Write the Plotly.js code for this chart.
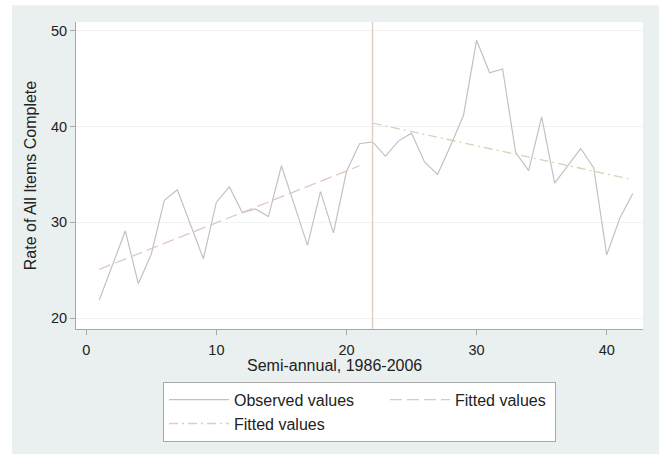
<!DOCTYPE html>
<html>
<head>
<meta charset="utf-8">
<script src="https://cdn.plot.ly/plotly-3.0.1.min.js"></script>
<style>
  html, body { margin: 0; padding: 0; background: #ffffff; }
  #chart { width: 659px; height: 454px; }
</style>
</head>
<body>
<div id="chart"></div>
<script>
// Semi-annual period index
const period = [1,2,3,4,5,6,7,8,9,10,11,12,13,14,15,16,17,18,19,20,21,
                22,23,24,25,26,27,28,29,30,31,32,33,34,35,36,37,38,39,40,41,42];
// Observed rate of all items complete
const observed = [21.9,25.5,29.1,23.6,26.7,32.3,33.4,29.8,26.2,32.1,33.7,
                  31.0,31.4,30.6,35.9,31.8,27.6,33.2,28.9,35.3,38.2,
                  38.4,36.9,38.5,39.3,36.3,35.0,38.0,41.2,49.0,45.6,
                  46.0,37.3,35.4,41.0,34.1,35.9,37.7,35.7,26.6,30.4,33.0];
// Fitted values, before break
const fit1X = [1, 21];
const fit1Y = [25.1, 35.9];
// Fitted values, after break
const fit2X = [22, 42];
const fit2Y = [40.35, 34.45];
// Break point
const breakX = [22];
// Tick values
const xTicks = [0, 10, 20, 30, 40];
const yTicks = [20, 30, 40, 50];
const seriesNames = ['Observed values', 'Fitted values', 'Fitted values'];

const FONT = 'Liberation Sans, Arial, sans-serif';

const traces = [
  {
    x: period, y: observed, type: 'scatter', mode: 'lines',
    name: seriesNames[0],
    line: { color: '#c2c2c2', width: 1.2 },
    legendrank: 1
  },
  {
    x: fit1X, y: fit1Y, type: 'scatter', mode: 'lines',
    name: seriesNames[1],
    line: { color: '#dfc8be', width: 1.3, dash: '12px,5px' },
    legendwidth: 95,
    legendrank: 2
  },
  {
    x: fit2X, y: fit2Y, type: 'scatter', mode: 'lines',
    name: seriesNames[2],
    line: { color: '#dad1b8', width: 1.3, dash: '9px,4px,2px,4px' },
    legendrank: 3
  }
];

const axisCommon = {
  showline: true,
  linecolor: '#a8a8a8',
  linewidth: 1,
  ticks: 'outside',
  ticklen: 5,
  tickwidth: 1,
  tickcolor: '#a8a8a8',
  tickfont: { family: FONT, size: 14.5, color: '#222222' },
  zeroline: false,
  mirror: false
};

const layout = {
  width: 659, height: 454,
  margin: { l: 76, r: 16, t: 22, b: 119 },
  paper_bgcolor: 'rgb(234,240,240)',
  plot_bgcolor: '#ffffff',
  font: { family: FONT, color: '#222222' },
  showlegend: true,
  xaxis: Object.assign({}, axisCommon, {
    range: [-0.79, 42.79],
    tickvals: xTicks,
    ticklabelstandoff: 3,
    showgrid: false
  }),
  yaxis: Object.assign({}, axisCommon, {
    range: [18.87, 50.9],
    tickvals: yTicks,
    showgrid: true,
    gridcolor: '#f1f3f3',
    gridwidth: 1,
    title: { text: 'Rate of All Items Complete', font: { family: FONT, size: 16, color: '#222222' }, standoff: 10 }
  }),
  legend: {
    orientation: 'h',
    x: 0.5, xanchor: 'center',
    y: -0.172, yanchor: 'top',
    bgcolor: '#ffffff',
    bordercolor: '#a8a8a8',
    borderwidth: 1,
    itemwidth: 60,
    entrywidth: 146,
    entrywidthmode: 'pixels',
    font: { family: FONT, size: 16, color: '#222222' },
    traceorder: 'normal'
  },
  annotations: [
    {
      text: 'Semi-annual, 1986-2006',
      xref: 'paper', yref: 'paper',
      x: 0.456, y: -(372 - 335) / 313,
      xanchor: 'center', yanchor: 'middle',
      showarrow: false,
      font: { family: FONT, size: 16, color: '#222222' }
    }
  ],
  shapes: [
    {
      type: 'line', xref: 'x', yref: 'paper',
      x0: breakX[0], x1: breakX[0], y0: 0, y1: 1,
      line: { color: '#e2d0c6', width: 1.5 },
      layer: 'above'
    },
    {
      type: 'rect', xref: 'paper', yref: 'paper',
      x0: -0.2, x1: (12 - 76) / 567, y0: -0.5, y1: 1.2,
      fillcolor: '#ffffff', line: { width: 0 }, layer: 'below'
    },
    {
      type: 'rect', xref: 'paper', yref: 'paper',
      x0: -0.2, x1: 1.1, y0: 1 + (22 - 5) / 313, y1: 1.2,
      fillcolor: '#ffffff', line: { width: 0 }, layer: 'below'
    }
  ]
};

Plotly.newPlot('chart', traces, layout, { displayModeBar: false, staticPlot: true });
</script>
</body>
</html>
